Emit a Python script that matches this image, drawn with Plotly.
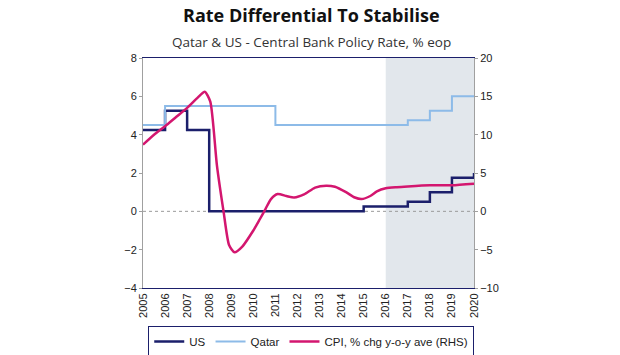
import plotly.graph_objects as go

# ---- data ----
years = list(range(2005, 2021))
us_x = [2005, 2006, 2007, 2008, 2015, 2017, 2018, 2019, 2020, 2020]
us_rate = [4.25, 5.25, 4.25, 0.0, 0.25, 0.5, 1.0, 1.75, 1.75, 2.0]
qatar_x = [2005, 2006, 2011, 2017, 2018, 2019, 2020]
qatar_rate = [4.5, 5.5, 4.5, 4.75, 5.25, 6.0, 6.0]
cpi_x = [2005.0, 2005.5, 2006.0, 2006.5, 2007.0, 2007.5, 2007.8, 2008.05, 2008.35,
         2008.65, 2008.9, 2009.15, 2009.5, 2010.0, 2010.3, 2010.55, 2010.8, 2011.1,
         2011.5, 2011.85, 2012.3, 2012.8, 2013.3, 2013.7, 2014.2, 2014.6, 2014.9,
         2015.3, 2015.6, 2016.0, 2016.5, 2017.0, 2018.0, 2019.0, 2020.0]
cpi = [8.7, 10.0, 11.1, 12.3, 13.5, 14.9, 15.6, 14.3, 6.0,
       0.0, -4.4, -5.35, -4.6, -2.5, -1.0, 0.3, 1.6, 2.25,
       2.0, 1.8, 2.2, 3.1, 3.35, 3.2, 2.5, 1.8, 1.6,
       2.0, 2.6, 3.0, 3.15, 3.25, 3.4, 3.4, 3.6]
forecast_period = [2016, 2020]
left_ticks = [-4, -2, 0, 2, 4, 6, 8]
right_ticks = [-10, -5, 0, 5, 10, 15, 20]

NAVY = "#1b1f6b"
LIGHT = "#8dbbe8"
MAGENTA = "#d3166f"
GRAY = "#a0a0a0"

fig = go.Figure()
fig.add_trace(go.Scatter(x=us_x, y=us_rate, mode="lines", name="US",
                         line=dict(color=NAVY, width=2.5, shape="hv")))
fig.add_trace(go.Scatter(x=qatar_x, y=qatar_rate, mode="lines", name="Qatar",
                         line=dict(color=LIGHT, width=2, shape="hv")))
fig.add_trace(go.Scatter(x=cpi_x, y=cpi, mode="lines", name="CPI, % chg y-o-y ave (RHS)",
                         yaxis="y2",
                         line=dict(color=MAGENTA, width=2.5, shape="spline", smoothing=0.6)))

fig.add_vrect(x0=forecast_period[0], x1=forecast_period[1], fillcolor="#e2e7ec",
              line_width=0, layer="below")
fig.add_shape(type="line", xref="paper", x0=0, x1=1, yref="y", y0=0, y1=0,
              line=dict(color="#9a9a9a", width=1, dash="dot"), layer="below")

fig.update_layout(
    width=620, height=355,
    margin=dict(l=143, r=146, t=58, b=67, autoexpand=False),
    paper_bgcolor="white", plot_bgcolor="white",
    font=dict(family="Liberation Sans, Arial, sans-serif", size=11, color="#222"),
    showlegend=True,
    legend=dict(orientation="h", x=0.502, xanchor="center", xref="container",
                y=1 - 326 / 355, yanchor="top", yref="container",
                bordercolor=NAVY, borderwidth=1, font=dict(size=11.5),
                itemwidth=30, tracegroupgap=0),
    xaxis=dict(range=[2005, 2020], tickvals=years, ticktext=[str(y) for y in years],
               tickangle=-90, showgrid=False, zeroline=False, automargin=False,
               showline=True, linecolor=NAVY, linewidth=1, mirror=True, ticks=""),
    yaxis=dict(range=[-4, 8], tickvals=left_ticks, showgrid=False, zeroline=False,
               showline=True, linecolor=GRAY, linewidth=1, ticks="outside", automargin=False,
               ticklen=3, tickcolor=GRAY),
    yaxis2=dict(range=[-10, 20], tickvals=right_ticks, overlaying="y", side="right",
                showgrid=False, zeroline=False, showline=True, linecolor=GRAY, automargin=False,
                linewidth=1, ticks="outside", ticklen=3, tickcolor=GRAY),
)

fig.add_annotation(text="<b>Rate Differential To Stabilise</b>", xref="paper", yref="paper",
                   x=0.508, y=1, yshift=43, showarrow=False, xanchor="center", yanchor="middle",
                   font=dict(family="Open Sans, sans-serif", size=18, color="#111"))
fig.add_annotation(text="Qatar & US - Central Bank Policy Rate, % eop", xref="paper", yref="paper",
                   x=0.508, y=1, yshift=16, showarrow=False, xanchor="center", yanchor="middle",
                   font=dict(family="Open Sans, sans-serif", size=13.5, color="#333"))

fig.write_html("out.html", config={"displayModeBar": False},
               post_script="document.body.style.margin='0';document.body.style.overflow='hidden';")
